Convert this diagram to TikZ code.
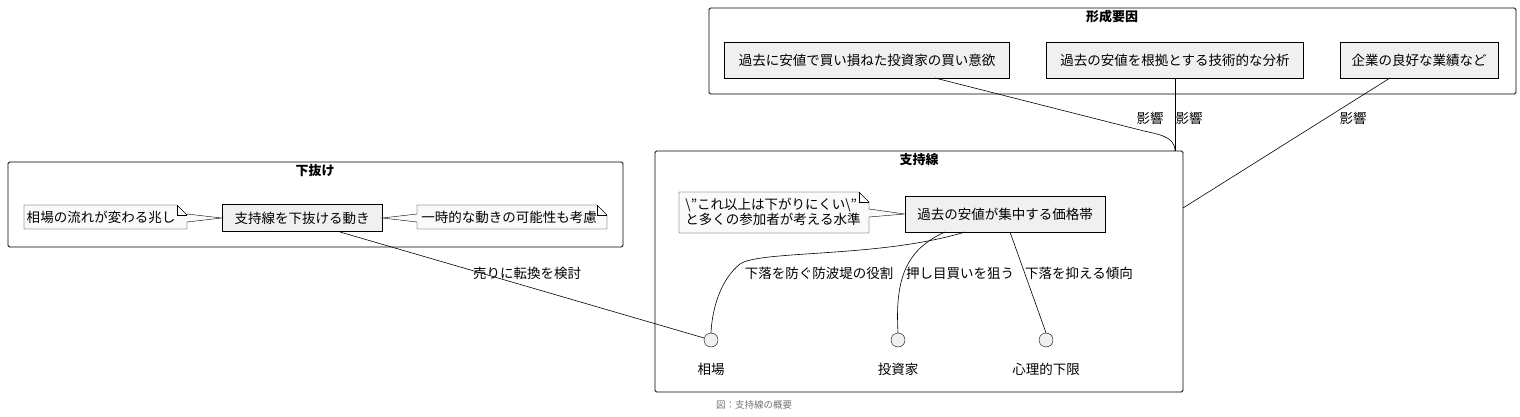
\documentclass[tikz,border=0pt]{standalone}
\usepackage{fontspec}
\setmainfont{Noto Sans CJK JP}
\usetikzlibrary{positioning,calc}
\tikzset{
  pkg/.style={draw, rounded corners=1.5pt, line width=0.8pt},
  pkgtitle/.style={font=\fontsize{13}{15}\selectfont\bfseries},
  comp/.style={draw, fill=black!6, inner sep=0pt, minimum height=36pt, font=\fontsize{13.5}{16}\selectfont},
  notetext/.style={inner sep=0pt, font=\fontsize{13.5}{15}\selectfont, align=left},
  iface/.style={draw, circle, fill=black!6, minimum size=14pt, inner sep=0pt},
  lbl/.style={font=\fontsize{13.5}{16}\selectfont},
  conn/.style={line width=0.6pt}
}
\begin{document}
\begin{tikzpicture}[x=1pt,y=-1pt]
  \useasboundingbox (0,0) rectangle (1520,417);

  % packages
  \draw[pkg] (709,8) rectangle (1516,94);
  \node[pkgtitle] at (1112,17) {形成要因};
  \draw[pkg] (655,151) rectangle (1183,392);
  \node[pkgtitle] at (919,160) {支持線};
  \draw[pkg] (8,162) rectangle (623,247);
  \node[pkgtitle] at (315,171) {下抜け};

  % factors
  \node[comp, minimum width=285pt] (buy) at (867,60) {過去に安値で買い損ねた投資家の買い意欲};
  \node[comp, minimum width=257pt] (tech) at (1175,60) {過去の安値を根拠とする技術的な分析};
  \node[comp, minimum width=158pt] (perf) at (1419,60) {企業の良好な業績など};
  \coordinate (sup) at (1175,151);
  \coordinate (supr) at (1183,208);

  % support line
  \node[comp, minimum width=200pt] (band) at (1005,214) {過去の安値が集中する価格帯};
  \node[iface] (mkt) at (711,340) {};
  \node[lbl, below=12pt of mkt] {相場};
  \node[iface] (inv) at (898,340) {};
  \node[lbl, below=12pt of inv] {投資家};
  \node[iface] (low) at (1046,340) {};
  \node[lbl, below=12pt of low] {心理的下限};

  % break
  \node[comp, minimum width=160pt, minimum height=27pt] (brk) at (302,218) {支持線を下抜ける動き};

  % notes
  \draw[fill=black!2] (679,192) -- (859,192) -- (869,202) -- (869,209) -- (band.west) -- (869,217)
    -- (869,233) -- (679,233) -- cycle;
  \draw (859,192) -- (859,202) -- (869,202);
  \node[notetext] (n1) at (773,212) {\textbackslash"これ以上は下がりにくい\textbackslash"\\と多くの参加者が考える水準};

  \draw[fill=black!2] (24,205) -- (177,205) -- (187,215) -- (187,214) -- (brk.west) -- (187,222)
    -- (187,229) -- (24,229) -- cycle;
  \draw (177,205) -- (177,215) -- (187,215);
  \node[notetext] (n2) at (101,217) {相場の流れが変わる兆し};

  \draw[fill=black!2] (417,205) -- (597,205) -- (607,215) -- (607,229) -- (417,229) -- (417,222)
    -- (brk.east) -- (417,214) -- cycle;
  \draw (597,205) -- (597,215) -- (607,215);
  \node[notetext] (n3) at (509,217) {一時的な動きの可能性も考慮};

  % connectors
  \draw[conn] (935,78) -- (1140,130) to[out=-15,in=90] (sup);
  \node[lbl] at (1150,118) {影響};
  \draw[conn] (tech.south) -- (sup);
  \node[lbl] at (1189,118) {影響};
  \draw[conn] (1390,78) -- (supr);
  \node[lbl] at (1353,118) {影響};

  \draw[conn] (340,232) -- (mkt);
  \node[lbl] at (527,273) {売りに転換を検討};
  \draw[conn] (965,232) .. controls (880,258) and (760,250) .. (740,264)
    .. controls (720,280) and (712,310) .. (mkt.north);
  \node[lbl] at (819,273) {下落を防ぐ防波堤の役割};
  \draw[conn] (945,232) .. controls (905,250) and (895,280) .. (inv.north);
  \node[lbl] at (960,273) {押し目買いを狙う};
  \draw[conn] (1010,232) -- (low.north);
  \node[lbl] at (1079,273) {下落を抑える傾向};

  \node[font=\fontsize{9.5}{11}\selectfont, text=black!55] (cap) at (754,405) {図：支持線の概要};
\end{tikzpicture}
\end{document}
